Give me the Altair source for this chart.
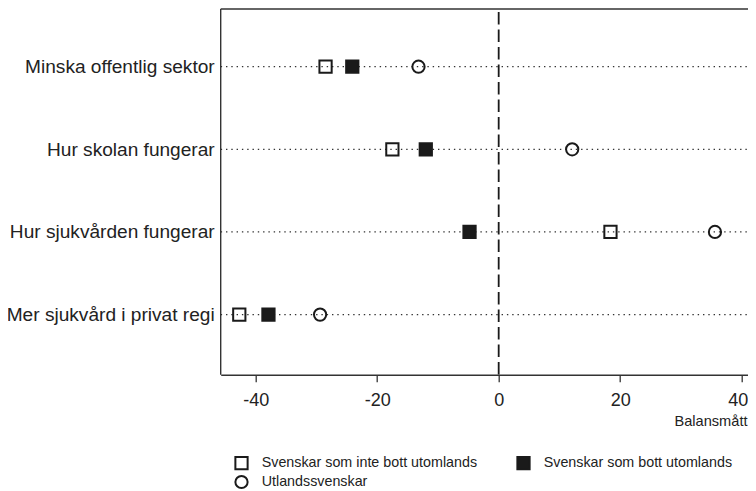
import altair as alt
import pandas as pd

categories = ["Minska offentlig sektor", "Hur skolan fungerar",
              "Hur sjukvården fungerar", "Mer sjukvård i privat regi"]
series = ["Svenskar som inte bott utomlands", "Svenskar som bott utomlands", "Utlandssvenskar"]
inte_bott = [-28.5, -17.5, 18.4, -42.7]
bott = [-24.1, -12.0, -4.8, -37.9]
utlands = [-13.2, 12.1, 35.6, -29.4]
x_ticks = [-40, -20, 0, 20, 40]

rows = []
for name, vals in zip(series, [inte_bott, bott, utlands]):
    for c, v in zip(categories, vals):
        rows.append({"kategori": c, "grupp": name, "varde": v})
df = pd.DataFrame(rows)
cat_df = pd.DataFrame({"kategori": categories})

W = 527.3
H = 365.7
FONT = "Liberation Sans"
AX = "#333333"
INK = "#1a1a1a"

xscale = alt.Scale(domain=[-45.76, 41.04], nice=False, zero=False)
yscale = alt.Scale(type="point", domain=categories, range=[57.7, 305.6], padding=0)

yaxis = alt.Axis(title=None, ticks=False, tickSize=0, labelPadding=6.5, labelFontSize=19.1,
                 labelFont=FONT, labelColor="#222222", domain=False,
                 grid=False, labelLimit=400)
xaxis = alt.Axis(title="Balansmått", values=x_ticks, tickSize=7, tickColor=AX, tickWidth=1.3,
                 labelPadding=10, labelFontSize=18, labelFont=FONT, labelColor="#222222",
                 labelExpr="datum.value + ''",
                 labelAlign={"condition": {"test": "datum.value == 40", "value": "right"}, "value": "center"},
                 labelOffset={"condition": {"test": "datum.value == 40", "value": 6}, "value": 0},
                 domainColor=AX, domainWidth=1.4, grid=False,
                 titleFont=FONT, titleFontSize=14.6, titleFontWeight="normal", titleColor="#222222",
                 titleAnchor="end", titleAlign="right", titleX=W - 1, titleY=51,
                 titleBaseline="alphabetic")

lines = alt.Chart(cat_df).mark_rule(strokeDash=[1.4, 3.9], color=AX, strokeWidth=1.3).encode(
    y=alt.Y("kategori:N", scale=yscale, axis=yaxis, sort=categories),
    x=alt.value(0), x2=alt.value(W))

zero = alt.Chart(pd.DataFrame({"z": [0]})).mark_rule(strokeDash=[12.5, 5], color=INK, strokeWidth=1.8,
                                                     strokeDashOffset=-3).encode(
    x=alt.X("z:Q", scale=xscale, axis=xaxis), y=alt.value(0), y2=alt.value(H))

frame = pd.DataFrame({"z": [0]})
top = alt.Chart(frame).mark_rule(color=AX, strokeWidth=1.4).encode(
    x=alt.value(0), x2=alt.value(W), y=alt.value(0))
left = alt.Chart(frame).mark_rule(color=AX, strokeWidth=1.4).encode(
    x=alt.value(0), y=alt.value(0), y2=alt.value(H))

leg = alt.Legend(title=None)
points = alt.Chart(df).mark_point(filled=True, strokeWidth=2, opacity=1, size=150).encode(
    x=alt.X("varde:Q", scale=xscale, axis=xaxis),
    y=alt.Y("kategori:N", scale=yscale, axis=yaxis, sort=categories),
    shape=alt.Shape("grupp:N", scale=alt.Scale(domain=series, range=["square", "square", "circle"]),
                    legend=leg),
    fill=alt.Fill("grupp:N", scale=alt.Scale(domain=series, range=["transparent", INK, "transparent"]),
                  legend=leg),
    stroke=alt.Stroke("grupp:N", scale=alt.Scale(domain=series, range=[INK, INK, INK]),
                      legend=leg),
)

chart = alt.layer(lines, zero, top, left, points).properties(
    width=W, height=H,
    autosize=alt.AutoSizeParams(type="none"),
    padding={"left": 212.7, "top": 1, "right": 0, "bottom": 116.3},
).configure_view(stroke=None).configure_legend(
    orient="none", legendX=13.3, legendY=446.5, columns=2, direction="horizontal",
    labelFont=FONT, labelFontSize=14.3, labelColor="#222222", labelOffset=12.7,
    symbolSize=150, symbolStrokeWidth=2, symbolOpacity=1,
    columnPadding=35, rowPadding=-2, padding=0, labelLimit=400,
)

chart.save("out.html", embed_options={"renderer": "svg", "actions": False})
